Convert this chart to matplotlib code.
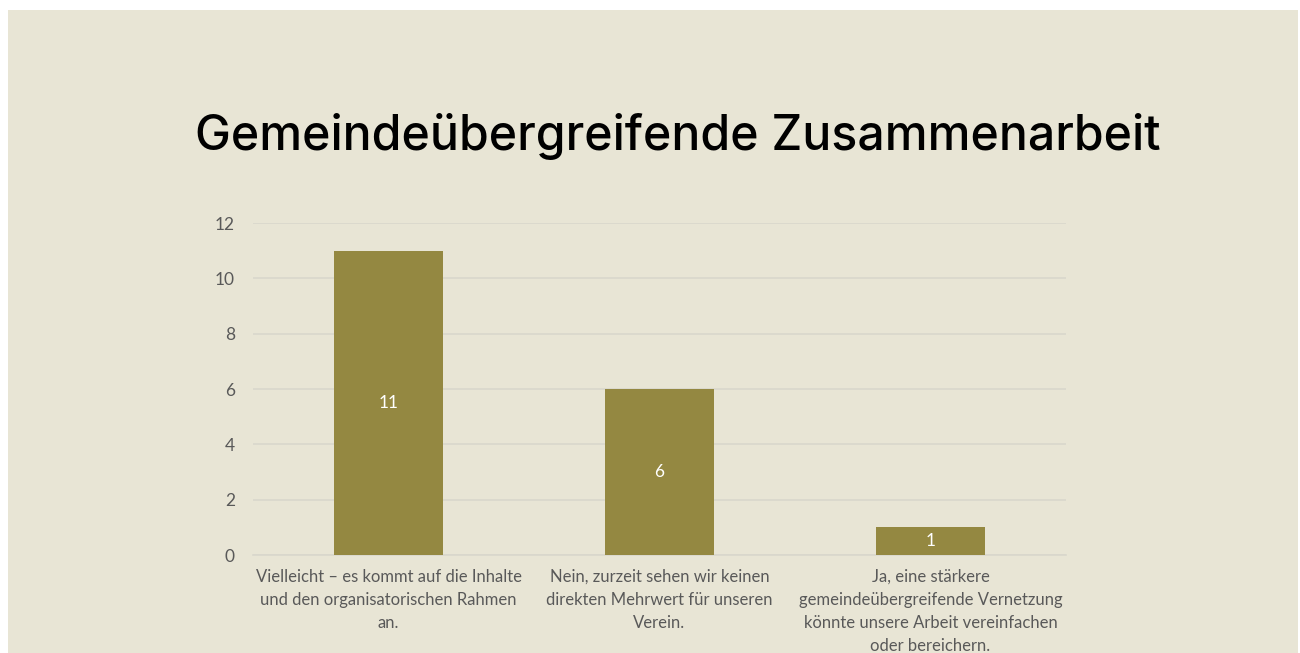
import matplotlib
matplotlib.use("Agg")
import matplotlib.pyplot as plt
from matplotlib.patches import Rectangle

# chart data
categories = [
    "Vielleicht – es kommt auf die Inhalte\nund den organisatorischen Rahmen\nan.",
    "Nein, zurzeit sehen wir keinen\ndirekten Mehrwert für unseren\nVerein.",
    "Ja, eine stärkere\ngemeindeübergreifende Vernetzung\nkönnte unsere Arbeit vereinfachen\noder bereichern.",
]
counts = [11, 6, 1]
y_ticks = [0, 2, 4, 6, 8, 10, 12]
title = "Gemeindeübergreifende Zusammenarbeit"

bg = "#E8E5D5"
bar_color = "#948841"
text_color = "#595959"

fig = plt.figure(figsize=(13, 6.53), dpi=100)
fig.patch.set_facecolor("white")
# beige slide panel
fig.patches.append(Rectangle((8 / 1300, 0), 1290 / 1300, 643 / 653,
                             transform=fig.transFigure, facecolor=bg,
                             edgecolor="none", zorder=-10))

ax = fig.add_axes([253 / 1300, 1 - 555 / 653, 813 / 1300, 332 / 653])
ax.set_facecolor("none")

x = range(len(categories))
bars = ax.bar(x, counts, width=0.4, color=bar_color, zorder=3)
for rect, v in zip(bars, counts):
    ax.text(rect.get_x() + rect.get_width() / 2, v / 2, str(v),
            ha="center", va="center", color="white", fontsize=12.5,
            family="Lato", zorder=4)

ax.set_xlim(-0.5, len(categories) - 0.5)
ax.set_ylim(0, 12)
ax.set_yticks(y_ticks)
ax.set_xticks(list(x))
ax.set_xticklabels(categories, fontsize=12, color=text_color, family="Lato",
                   linespacing=1.55)
ax.tick_params(axis="y", labelsize=12.5, labelcolor=text_color, length=0, pad=13)
ax.tick_params(axis="x", length=0, pad=10)
for lbl in ax.get_yticklabels():
    lbl.set_family("Lato")
ax.grid(axis="y", color="#D9D7CC", linewidth=1.2, zorder=0)
for s in ["top", "right", "left"]:
    ax.spines[s].set_visible(False)
ax.spines["bottom"].set_color("#D9D7CC")
ax.spines["bottom"].set_linewidth(1.2)

fig.text(678 / 1300, 1 - 137 / 653, title, ha="center", va="center",
         fontsize=34.7, family="Inter", fontweight="medium", color="black")

fig.savefig("out.png", dpi=100)
